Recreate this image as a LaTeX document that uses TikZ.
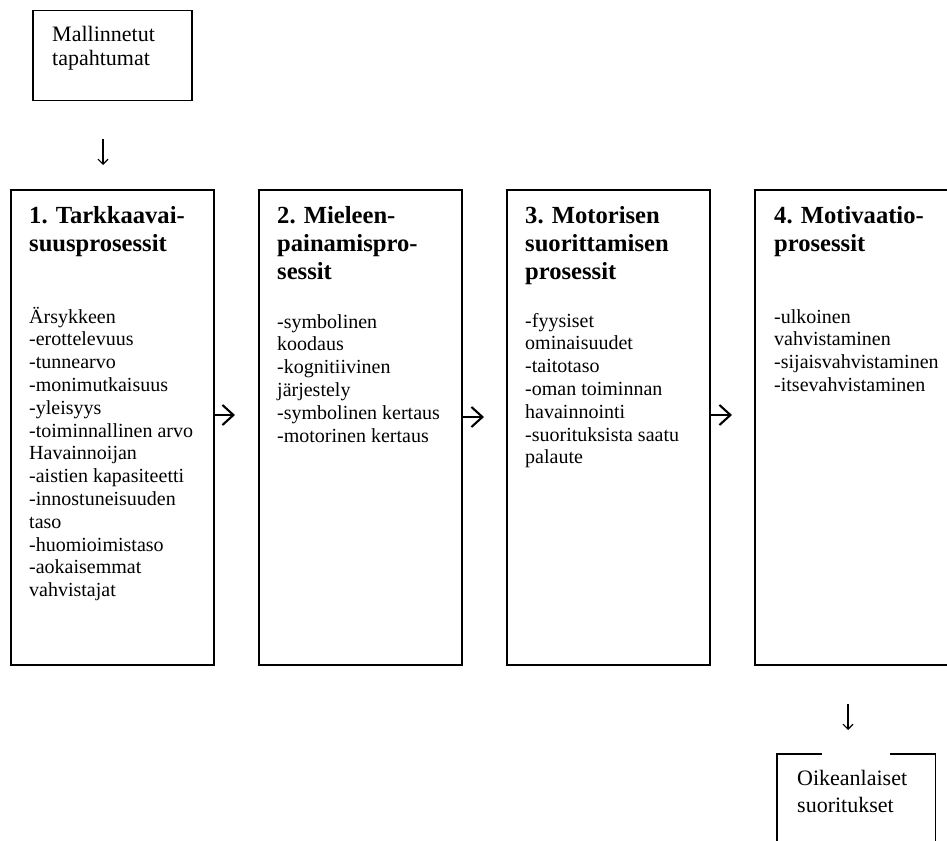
\documentclass[tikz,border=0pt]{standalone}
\usepackage{fontspec}
\setmainfont{Liberation Serif}
\usetikzlibrary{arrows.meta}
\begin{document}
\begin{tikzpicture}[x=1pt,y=-1pt,
  box/.style={draw, line width=1.5pt, inner sep=0pt, anchor=north west},
  head/.style={anchor=base west, inner sep=0pt, align=left, font=\bfseries\fontsize{24.6}{28}\selectfont},
  body/.style={anchor=base west, inner sep=0pt, align=left, font=\fontsize{20}{22.8}\selectfont},
  endtxt/.style={anchor=base west, inner sep=0pt, align=left, font=\fontsize{22}{24.5}\selectfont},
  rarrow/.style={-{Straight Barb[length=11pt,width=20pt]}, line width=2.1pt},
  darrow/.style={-{Straight Barb[length=5pt,width=10pt]}, line width=1.1pt}]
\useasboundingbox (0,0) rectangle (947,840);
\clip (0,0) rectangle (947,840);

% top box (text nodes anchored at their last baseline)
\node[box, minimum width=159pt, minimum height=90pt] (model) at (32,10) {};
\node[endtxt] (modeltxt) at (52,66) {Mallinnetut\\tapahtumat};

% process boxes
\node[box, minimum width=203pt, minimum height=475pt] (p1) at (10,189) {};
\node[head] (p1h) at (29,251) {1. Tarkkaavai-\\suusprosessit};
\node[body] (p1b) at (29,596.6) {Ärsykkeen\\-erottelevuus\\-tunnearvo\\-monimutkaisuus\\-yleisyys\\-toiminnallinen arvo\\Havainnoijan\\-aistien kapasiteetti\\-innostuneisuuden\\taso\\-huomioimistaso\\-aokaisemmat\\vahvistajat};

\node[box, minimum width=203pt, minimum height=475pt] (p2) at (258,189) {};
\node[head] (p2h) at (277,279) {2. Mieleen-\\painamispro-\\sessit};
\node[body] (p2b) at (277,442) {-symbolinen\\koodaus\\-kognitiivinen\\järjestely\\-symbolinen kertaus\\-motorinen kertaus};

\node[box, minimum width=203pt, minimum height=475pt] (p3) at (506,189) {};
\node[head] (p3h) at (525,279) {3. Motorisen\\suorittamisen\\prosessit};
\node[body] (p3b) at (525,463.8) {-fyysiset\\ominaisuudet\\-taitotaso\\-oman toiminnan\\havainnointi\\-suorituksista saatu\\palaute};

\node[box, minimum width=203pt, minimum height=475pt] (p4) at (754,189) {};
\node[head] (p4h) at (774,251) {4. Motivaatio-\\prosessit};
\node[body] (p4b) at (774,391.4) {-ulkoinen\\vahvistaminen\\-sijaisvahvistaminen\\-itsevahvistaminen};

% bottom box (top border interrupted)
\node[inner sep=0pt, minimum width=158pt, minimum height=100pt, anchor=north west] (out) at (777,754) {};
\draw[line width=1.5pt] (822,754) -- (out.north west) -- (out.south west) -- (out.south east) -- (out.north east) -- (890,754);
\node[endtxt, font=\fontsize{22}{26.5}\selectfont] (outtxt) at (797,812) {Oikeanlaiset\\suoritukset};

% arrows
\coordinate (r1) at (235,415);
\coordinate (r2) at (484,417);
\coordinate (r3) at (732,415);
\draw[rarrow] (p1.east |- r1) -- (r1);
\draw[rarrow] (p2.east |- r2) -- (r2);
\draw[rarrow] (p3.east |- r3) -- (r3);

\coordinate (d1a) at (103,139);
\coordinate (d1b) at (103,165);
\coordinate (d2a) at (848,704);
\coordinate (d2b) at (848,730);
\draw[darrow] (d1a) -- (d1b);
\draw[darrow] (d2a) -- (d2b);
\end{tikzpicture}
\end{document}
